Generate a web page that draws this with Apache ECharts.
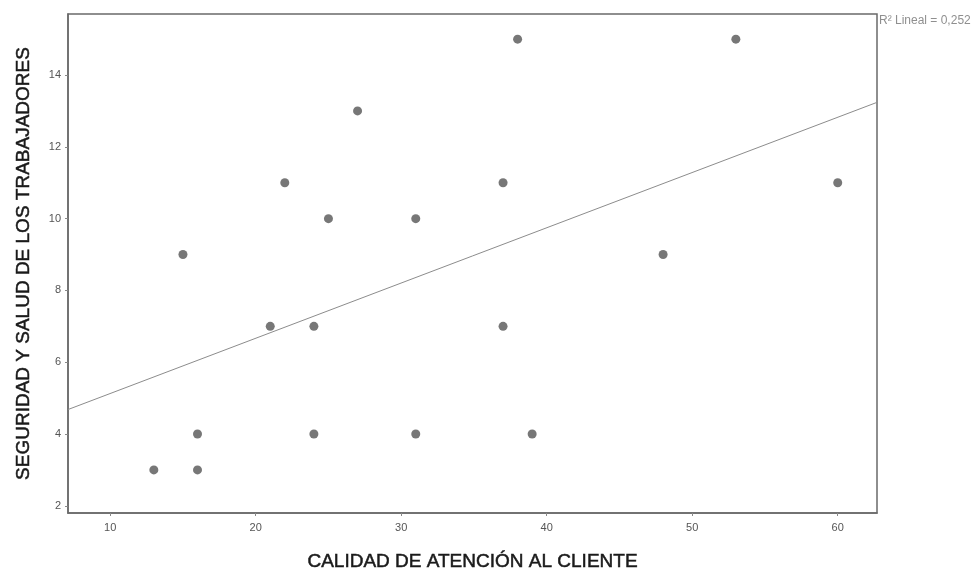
<!DOCTYPE html>
<html>
<head>
<meta charset="utf-8">
<script src="https://cdn.jsdelivr.net/npm/echarts@6/dist/echarts.min.js"></script>
<style>
  html, body { margin: 0; padding: 0; background: #fff; }
  #chart { width: 978px; height: 572px; }
</style>
</head>
<body>
<div id="chart"></div>
<script>
// Observations: customer service quality (x) vs worker safety & health (y)
const calidadAtencion = [13, 15, 16, 16, 21, 22, 24, 24, 25, 27, 31, 31, 37, 37, 38, 39, 48, 53, 60];
const seguridadSalud  = [3, 9, 4, 3, 7, 11, 7, 4, 10, 13, 10, 4, 11, 7, 15, 4, 9, 15, 11];

const xTicks = [10, 20, 30, 40, 50, 60];
const yTicks = [2, 4, 6, 8, 10, 12, 14];
const xRange = [7.1, 62.7];
const yRange = [1.8, 15.7];
const r2Label = 'R\u00b2 Lineal = 0,252';

// Least-squares fit line over the visible x range
function linearFit(xs, ys) {
  const n = xs.length;
  const mx = xs.reduce((a, b) => a + b, 0) / n;
  const my = ys.reduce((a, b) => a + b, 0) / n;
  let sxy = 0, sxx = 0;
  for (let i = 0; i < n; i++) {
    sxy += (xs[i] - mx) * (ys[i] - my);
    sxx += (xs[i] - mx) * (xs[i] - mx);
  }
  const slope = sxy / sxx;
  return { slope, intercept: my - slope * mx };
}
const fit = linearFit(calidadAtencion, seguridadSalud);
const fitLine = xRange.map(x => [x, fit.intercept + fit.slope * x]);

const points = calidadAtencion.map((x, i) => [x, seguridadSalud[i]]);

const FONT = 'Liberation Sans, Arial, sans-serif';
const titleStyle = {
  fontSize: 19, color: '#1a1a1a', fontFamily: FONT,
  textBorderColor: '#1a1a1a', textBorderWidth: 0.5
};

const chart = echarts.init(document.getElementById('chart'), null, { renderer: 'canvas' });
chart.setOption({
  animation: false,
  backgroundColor: '#ffffff',
  textStyle: { fontFamily: FONT },
  grid: {
    left: 68, right: 101, top: 14, bottom: 59,
    outerBoundsMode: 'none',
    containLabel: false,
    show: true, borderColor: '#6a6a6a', borderWidth: 1.5, backgroundColor: '#ffffff'
  },
  graphic: [{
    type: 'text',
    left: 879, top: 15,
    style: { text: r2Label, fontSize: 12, fill: '#8f8f8f', fontFamily: FONT }
  }],
  xAxis: {
    type: 'value',
    min: xRange[0], max: xRange[1],
    name: 'CALIDAD DE ATENCIÓN AL CLIENTE',
    nameLocation: 'middle', nameGap: 39,
    nameTextStyle: titleStyle,
    axisLine: { show: true, lineStyle: { color: '#6a6a6a', width: 1.5 } },
    axisTick: { show: true, length: 3, customValues: xTicks, lineStyle: { color: '#888' } },
    axisLabel: { customValues: xTicks, fontSize: 11, color: '#555', margin: 9 },
    splitLine: { show: false }
  },
  yAxis: {
    type: 'value',
    min: yRange[0], max: yRange[1],
    name: 'SEGURIDAD Y SALUD DE LOS TRABAJADORES',
    nameLocation: 'middle', nameGap: 35, nameRotate: 90,
    nameTextStyle: titleStyle,
    axisLine: { show: true, lineStyle: { color: '#6a6a6a', width: 1.5 } },
    axisTick: { show: true, length: 3, customValues: yTicks, lineStyle: { color: '#888' } },
    axisLabel: { customValues: yTicks, fontSize: 11, color: '#555', margin: 7 },
    splitLine: { show: false }
  },
  series: [
    {
      type: 'line',
      data: fitLine,
      symbol: 'none',
      lineStyle: { color: '#8c8c8c', width: 1 },
      silent: true,
      z: 1
    },
    {
      type: 'scatter',
      data: points,
      symbol: 'circle',
      symbolSize: 9,
      itemStyle: { color: '#555555' },
      z: 2
    }
  ]
});
</script>
</body>
</html>
